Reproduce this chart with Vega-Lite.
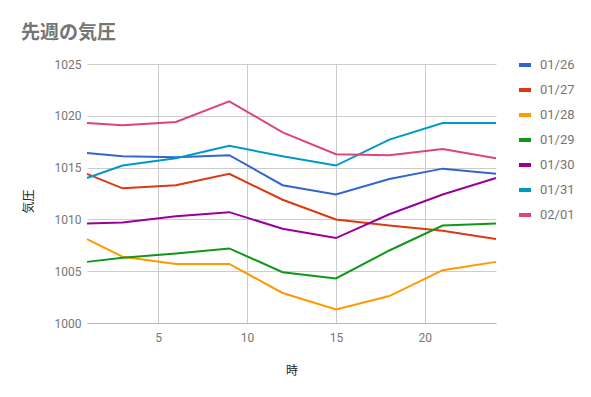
{
  "$schema": "https://vega.github.io/schema/vega-lite/v6.json",
  "width": 409,
  "height": 259,
  "autosize": {"type": "none"},
  "padding": {"left": 87, "top": 64, "right": 95, "bottom": 74},
  "background": "white",
  "title": {
    "text": "先週の気圧",
    "anchor": "start",
    "frame": "group",
    "dx": -66,
    "offset": 14,
    "fontSize": 19,
    "fontWeight": "bold",
    "color": "#757575",
    "font": "Roboto, 'Noto Sans CJK JP'"
  },
  "config": {
    "view": {"stroke": null},
    "font": "Roboto, 'Noto Sans CJK JP'",
    "axis": {
      "gridColor": "#cccccc",
      "labelColor": "#757575",
      "labelFontSize": 12,
      "labelFont": "Roboto",
      "titleColor": "#222222",
      "titleFontSize": 12,
      "titleFontWeight": "normal",
      "titleFont": "'Noto Sans CJK JP'",
      "ticks": false
    }
  },
  "data": {
    "values": [
      {"date": "01/26", "hour": 1, "p": 1016.4},
      {"date": "01/26", "hour": 3, "p": 1016.1},
      {"date": "01/26", "hour": 6, "p": 1016.0},
      {"date": "01/26", "hour": 9, "p": 1016.2},
      {"date": "01/26", "hour": 12, "p": 1013.3},
      {"date": "01/26", "hour": 15, "p": 1012.4},
      {"date": "01/26", "hour": 18, "p": 1013.9},
      {"date": "01/26", "hour": 21, "p": 1014.9},
      {"date": "01/26", "hour": 24, "p": 1014.4},
      {"date": "01/27", "hour": 1, "p": 1014.4},
      {"date": "01/27", "hour": 3, "p": 1013.0},
      {"date": "01/27", "hour": 6, "p": 1013.3},
      {"date": "01/27", "hour": 9, "p": 1014.4},
      {"date": "01/27", "hour": 12, "p": 1011.9},
      {"date": "01/27", "hour": 15, "p": 1010.0},
      {"date": "01/27", "hour": 18, "p": 1009.4},
      {"date": "01/27", "hour": 21, "p": 1008.9},
      {"date": "01/27", "hour": 24, "p": 1008.1},
      {"date": "01/28", "hour": 1, "p": 1008.1},
      {"date": "01/28", "hour": 3, "p": 1006.4},
      {"date": "01/28", "hour": 6, "p": 1005.7},
      {"date": "01/28", "hour": 9, "p": 1005.7},
      {"date": "01/28", "hour": 12, "p": 1002.9},
      {"date": "01/28", "hour": 15, "p": 1001.3},
      {"date": "01/28", "hour": 18, "p": 1002.6},
      {"date": "01/28", "hour": 21, "p": 1005.1},
      {"date": "01/28", "hour": 24, "p": 1005.9},
      {"date": "01/29", "hour": 1, "p": 1005.9},
      {"date": "01/29", "hour": 3, "p": 1006.3},
      {"date": "01/29", "hour": 6, "p": 1006.7},
      {"date": "01/29", "hour": 9, "p": 1007.2},
      {"date": "01/29", "hour": 12, "p": 1004.9},
      {"date": "01/29", "hour": 15, "p": 1004.3},
      {"date": "01/29", "hour": 18, "p": 1007.0},
      {"date": "01/29", "hour": 21, "p": 1009.4},
      {"date": "01/29", "hour": 24, "p": 1009.6},
      {"date": "01/30", "hour": 1, "p": 1009.6},
      {"date": "01/30", "hour": 3, "p": 1009.7},
      {"date": "01/30", "hour": 6, "p": 1010.3},
      {"date": "01/30", "hour": 9, "p": 1010.7},
      {"date": "01/30", "hour": 12, "p": 1009.1},
      {"date": "01/30", "hour": 15, "p": 1008.2},
      {"date": "01/30", "hour": 18, "p": 1010.5},
      {"date": "01/30", "hour": 21, "p": 1012.4},
      {"date": "01/30", "hour": 24, "p": 1014.0},
      {"date": "01/31", "hour": 1, "p": 1014.0},
      {"date": "01/31", "hour": 3, "p": 1015.2},
      {"date": "01/31", "hour": 6, "p": 1015.9},
      {"date": "01/31", "hour": 9, "p": 1017.1},
      {"date": "01/31", "hour": 12, "p": 1016.1},
      {"date": "01/31", "hour": 15, "p": 1015.2},
      {"date": "01/31", "hour": 18, "p": 1017.7},
      {"date": "01/31", "hour": 21, "p": 1019.3},
      {"date": "01/31", "hour": 24, "p": 1019.3},
      {"date": "02/01", "hour": 1, "p": 1019.3},
      {"date": "02/01", "hour": 3, "p": 1019.1},
      {"date": "02/01", "hour": 6, "p": 1019.4},
      {"date": "02/01", "hour": 9, "p": 1021.4},
      {"date": "02/01", "hour": 12, "p": 1018.4},
      {"date": "02/01", "hour": 15, "p": 1016.3},
      {"date": "02/01", "hour": 18, "p": 1016.2},
      {"date": "02/01", "hour": 21, "p": 1016.8},
      {"date": "02/01", "hour": 24, "p": 1015.9}
    ]
  },
  "mark": {"type": "line", "strokeWidth": 2},
  "encoding": {
    "x": {
      "field": "hour",
      "type": "quantitative",
      "title": "時",
      "scale": {"domain": [1, 24], "nice": false, "zero": false},
      "axis": {
        "values": [5, 10, 15, 20],
        "labelPadding": 9,
        "titlePadding": 22,
        "domainColor": "#bbbbbb"
      }
    },
    "y": {
      "field": "p",
      "type": "quantitative",
      "title": "気圧",
      "scale": {"domain": [1000, 1025], "nice": false, "zero": false},
      "axis": {
        "values": [1000, 1005, 1010, 1015, 1020, 1025],
        "format": "d",
        "domain": false,
        "labelPadding": 6,
        "titleX": -52,
        "titleY": 137
      }
    },
    "color": {
      "field": "date",
      "type": "nominal",
      "title": null,
      "scale": {
        "domain": ["01/26", "01/27", "01/28", "01/29", "01/30", "01/31", "02/01"],
        "range": ["#3366cc", "#dc3912", "#ff9900", "#109618", "#990099", "#0099c6", "#dd4477"]
      },
      "legend": {
        "orient": "none",
        "legendX": 430,
        "legendY": -7,
        "symbolType": "stroke",
        "symbolSize": 144,
        "symbolStrokeWidth": 4,
        "labelFontSize": 13,
        "labelColor": "#757575",
        "labelFont": "Roboto",
        "rowPadding": 9,
        "labelOffset": 7
      }
    }
  }
}
